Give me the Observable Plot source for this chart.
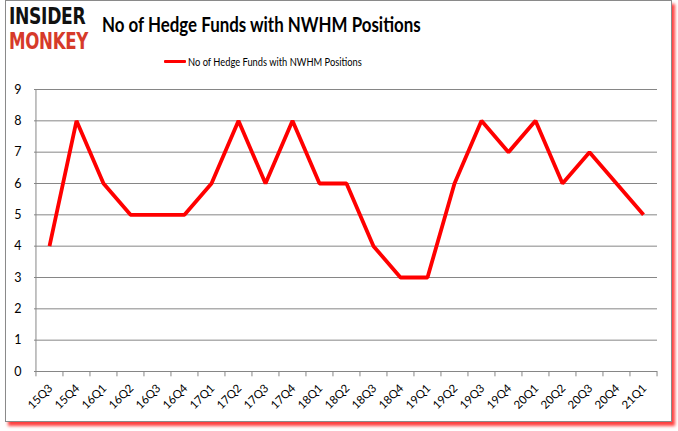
<!DOCTYPE html>
<html><head><meta charset="utf-8">
<script src="https://cdn.jsdelivr.net/npm/d3@7"></script>
<script src="https://cdn.jsdelivr.net/npm/@observablehq/plot@0.6"></script>
<style>
html,body{margin:0;padding:0;background:#fff;}
#wrap{position:relative;width:678px;height:431px;overflow:hidden;}
#frame{position:absolute;left:5px;top:0px;width:665px;height:420px;border:1px solid #8a8a8a;box-shadow:3px 4px 3px rgba(255,0,0,0.75);background:#fff;}
#chart{position:absolute;left:0;top:0;}
.logo{position:absolute;left:9px;font-family:"DejaVu Sans";font-weight:bold;font-size:26px;letter-spacing:-0.5px;line-height:1;transform-origin:left top;white-space:nowrap;}
#title{position:absolute;left:102px;top:12px;font-family:Lato;font-weight:bold;font-size:20px;color:#000;white-space:nowrap;transform-origin:left top;transform:scaleX(0.845);}
#legend{position:absolute;left:164px;top:55px;font-family:Lato;font-size:11.5px;color:#000;white-space:nowrap;display:flex;align-items:center;transform-origin:left top;}
#legend span.sw{display:inline-block;width:22px;height:3px;background:#ff0000;margin-right:2px;border-radius:1px;}
#legend span.tx{display:inline-block;transform-origin:left center;transform:scaleX(0.81);}
</style></head>
<body>
<div id="wrap">
<div id="frame"></div>
<div id="chart"></div>
<div class="logo" style="top:5px;color:#111;transform:scaleX(0.66) scaleY(0.88);">INSIDER</div>
<div class="logo" style="top:30px;color:#d63a2a;transform:scaleX(0.64) scaleY(0.88);">MONKEY</div>
<div id="title">No of Hedge Funds with NWHM Positions</div>
<div id="legend"><span class="sw"></span><span class="tx">No of Hedge Funds with NWHM Positions</span></div>
</div>
<script>
const quarters = ["15Q3","15Q4","16Q1","16Q2","16Q3","16Q4","17Q1","17Q2","17Q3","17Q4","18Q1","18Q2","18Q3","18Q4","19Q1","19Q2","19Q3","19Q4","20Q1","20Q2","20Q3","20Q4","21Q1"];
const funds = [4,8,6,5,5,5,6,8,6,8,6,6,4,3,3,6,8,7,8,6,7,6,5];
const yTicks = [0,1,2,3,4,5,6,7,8,9];

const data = quarters.map((q,i)=>({q, v: funds[i]}));
const W = 678, H = 431, mL = 34, mR = 21;
const step = (W - mL - mR) / quarters.length;
const font = "Lato";

const chart = Plot.plot({
  width: W, height: H,
  marginLeft: mL, marginRight: mR, marginTop: 89, marginBottom: 60,
  style: {fontFamily: font, fontSize: "12px", background: "transparent", color: "#000"},
  x: {type: "point", domain: quarters, padding: 0.5, label: null},
  y: {domain: [0, 9], ticks: yTicks, label: null},
  marks: [
    Plot.gridY(yTicks.slice(1), {stroke: "#868686", strokeOpacity: 1, strokeWidth: 1}),
    Plot.ruleY([0], {stroke: "#868686"}),
    Plot.ruleX([quarters[0]], {stroke: "#868686", dx: -step/2}),
    Plot.ruleX(quarters, {y1: 0, y2: -0.17, stroke: "#868686", dx: -step/2}),
    Plot.ruleX([quarters[quarters.length-1]], {y1: 0, y2: -0.17, stroke: "#868686", dx: step/2}),
    Plot.axisY(yTicks, {tickSize: 0, tickPadding: 13, fontSize: 12.5, label: null}),
    Plot.axisX({tickSize: 0, tickRotate: -45, tickPadding: 15, fontSize: 11.5, dx: 1, label: null}),
    Plot.line(data, {x: "q", y: "v", stroke: "#ff0000", strokeWidth: 3.8, strokeLinejoin: "miter", strokeLinecap: "butt"})
  ]
});
document.getElementById("chart").appendChild(chart);
</script>
</body></html>
